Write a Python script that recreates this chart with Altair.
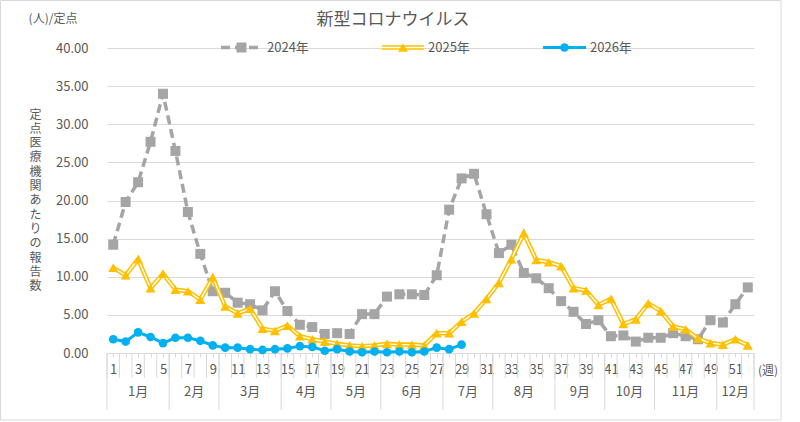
import altair as alt
import pandas as pd

# Weekly reports per sentinel site, new coronavirus
weeks = list(range(1, 53))
y2024 = [14.2, 19.8, 22.4, 27.7, 34.0, 26.5, 18.5, 13.0, 8.1, 7.9,
         6.6, 6.4, 5.6, 8.1, 5.5, 3.7, 3.4, 2.5, 2.6, 2.5,
         5.1, 5.1, 7.4, 7.7, 7.7, 7.6, 10.2, 18.8, 22.9, 23.5,
         18.2, 13.1, 14.2, 10.5, 9.8, 8.5, 6.8, 5.4, 3.8, 4.3,
         2.2, 2.3, 1.5, 2.0, 2.0, 2.6, 2.2, 1.8, 4.3, 4.0,
         6.4, 8.6]
y2025 = [11.2, 10.2, 12.3, 8.5, 10.4, 8.3, 8.1, 7.0, 9.9, 6.1,
         5.2, 5.8, 3.2, 2.9, 3.6, 2.2, 1.8, 1.5, 1.2, 1.0,
         0.9, 1.0, 1.2, 1.1, 1.1, 1.0, 2.6, 2.6, 4.1, 5.2,
         7.1, 9.2, 12.3, 15.7, 12.2, 11.9, 11.4, 8.5, 8.2, 6.3,
         7.1, 3.8, 4.4, 6.5, 5.5, 3.5, 3.1, 1.9, 1.3, 1.1,
         1.8, 1.0]
y2026 = [1.8, 1.5, 2.7, 2.1, 1.3, 2.0, 2.0, 1.6, 1.0, 0.7,
         0.7, 0.5, 0.4, 0.5, 0.6, 0.9, 0.8, 0.3, 0.5, 0.2,
         0.1, 0.2, 0.1, 0.2, 0.1, 0.2, 0.7, 0.5, 1.1]

month_names = ["1月", "2月", "3月", "4月", "5月", "6月",
               "7月", "8月", "9月", "10月", "11月", "12月"]
month_weeks = [5, 4, 5, 4, 4, 5, 4, 5, 4, 4, 5, 3]

series_names = ["2024年", "2025年", "2026年"]
y_ticks = [0, 5, 10, 15, 20, 25, 30, 35, 40]
y_title = "定点医療機関あたりの報告数"

W, H = 647, 305
FONT = "Noto Sans CJK JP"
TXT = "#595959"
GRID = "#d9d9d9"
GRAY = "#a5a5a5"
GOLD = "#ffc000"
BLUE = "#00b0f0"

df24 = pd.DataFrame({"week": weeks, "value": y2024})
df25 = pd.DataFrame({"week": weeks, "value": y2025})
df26 = pd.DataFrame({"week": weeks[:len(y2026)], "value": y2026})

# category boundaries (between weeks) and month boundaries
bounds = pd.DataFrame({"b": [w + 0.5 for w in range(0, 53)]})
edges = [0.5]
for n in month_weeks:
    edges.append(edges[-1] + n)
month_edges = pd.DataFrame({"b": edges})
months = pd.DataFrame({
    "mid": [(edges[i] + edges[i + 1]) / 2 for i in range(len(month_names))],
    "name": month_names,
})
one = pd.DataFrame({"k": [0]})

xscale = alt.Scale(domain=[0.5, 52.5], nice=False, zero=False)
yscale = alt.Scale(domain=[0, 40], nice=False, zero=True)

xaxis = alt.Axis(
    values=weeks, labelExpr="datum.value % 2 == 1 ? datum.label : ''",
    tickSize=4, tickColor=GRID, domainColor=GRID, labelColor=TXT,
    labelFontSize=13, labelPadding=6, labelFont=FONT, grid=False,
    labelFlush=False, labelOverlap=False, title=None,
)
yaxis = alt.Axis(
    values=y_ticks, format=".2f", grid=True, gridColor=GRID, domain=False,
    ticks=False, labelPadding=19, labelColor=TXT, labelFontSize=13,
    labelFont=FONT, title=list(y_title), titleAngle=0, titleX=-72, titleY=61,
    titleAlign="center", titleBaseline="top", titleLineHeight=14.3,
    titleFontSize=12, titleFontWeight="normal", titleColor=TXT, titleFont=FONT,
)


def X(field):
    return alt.X(f"{field}:Q", scale=xscale, axis=xaxis)


def Y(field):
    return alt.Y(f"{field}:Q", scale=yscale, axis=yaxis)


# outer frame
frame = alt.Chart(one).mark_rect(filled=False, stroke=GRID, strokeWidth=1).encode(
    x=alt.value(-106.5), x2=alt.value(674), y=alt.value(-47.5), y2=alt.value(372)
)

# category dividers
week_lines = alt.Chart(bounds).mark_rule(color=GRID, strokeWidth=1).encode(
    x=X("b"), y=alt.value(H), y2=alt.value(H + 25)
)
month_lines = alt.Chart(month_edges).mark_rule(color=GRID, strokeWidth=1).encode(
    x=X("b"), y=alt.value(H), y2=alt.value(H + 57)
)
month_text = alt.Chart(months).mark_text(
    font=FONT, fontSize=13, color=TXT, baseline="middle"
).encode(x=X("mid"), y=alt.value(H + 39), text="name:N")

# series
base24 = alt.Chart(df24).encode(x=X("week"), y=Y("value"))
line24 = base24.mark_line(color=GRAY, strokeWidth=3.5, strokeDash=[9, 5])
pts24 = base24.mark_point(shape="square", filled=True, size=100, color=GRAY, opacity=1)

base25 = alt.Chart(df25).encode(x=X("week"), y=Y("value"))
line25a = base25.mark_line(color=GOLD, strokeWidth=4.5)
line25b = base25.mark_line(color="white", strokeWidth=1.4)
pts25 = base25.mark_point(shape="triangle-up", filled=True, size=100, color=GOLD, opacity=1)

base26 = alt.Chart(df26).encode(x=X("week"), y=Y("value"))
line26 = base26.mark_line(color=BLUE, strokeWidth=3)
pts26 = base26.mark_circle(size=75, color=BLUE, opacity=1)

# legend
LY = -0.5


def seg(x1, x2, color, width, dash=None):
    kw = dict(color=color, strokeWidth=width)
    if dash:
        kw["strokeDash"] = dash
    return alt.Chart(one).mark_rule(**kw).encode(
        x=alt.value(x1), x2=alt.value(x2), y=alt.value(LY)
    )


def mark(xc, shape, color, size):
    return alt.Chart(one).mark_point(
        shape=shape, filled=True, size=size, color=color, opacity=1
    ).encode(x=alt.value(xc), y=alt.value(LY))


def label(xl, text):
    return alt.Chart(one).mark_text(
        font=FONT, fontSize=13, color=TXT, align="left", baseline="middle"
    ).encode(x=alt.value(xl), y=alt.value(LY), text=alt.value(text))


legend = [
    seg(114, 155, GRAY, 3.5, [9, 5]), mark(134.5, "square", GRAY, 100), label(160, series_names[0]),
    seg(275, 317, GOLD, 4.5), seg(275, 317, "white", 1.4), mark(296, "triangle-up", GOLD, 100),
    label(321, series_names[1]),
    seg(436, 479, BLUE, 3), mark(457.5, "circle", BLUE, 75), label(483, series_names[2]),
]

title = alt.Chart(one).mark_text(
    font=FONT, fontSize=17, color=TXT, align="center", baseline="middle"
).encode(x=alt.value(286), y=alt.value(-28.5), text=alt.value("新型コロナウイルス"))
unit = alt.Chart(one).mark_text(
    font=FONT, fontSize=12, color=TXT, align="center", baseline="middle"
).encode(x=alt.value(-54), y=alt.value(-29.5), text=alt.value("(人)/定点"))
week_unit = alt.Chart(one).mark_text(
    font=FONT, fontSize=12, color=TXT, align="center", baseline="middle"
).encode(x=alt.value(661), y=alt.value(H + 18), text=alt.value("(週)"))

chart = alt.layer(
    frame, week_lines, month_lines, month_text,
    line24, pts24, line25a, line25b, pts25, line26, pts26,
    *legend, title, unit, week_unit,
).properties(
    width=W, height=H, autosize="none",
    padding={"left": 107, "top": 48, "right": 46, "bottom": 69},
    background="white",
).configure_view(stroke=None)

chart.save("out.html", embed_options={"renderer": "svg", "actions": False})
